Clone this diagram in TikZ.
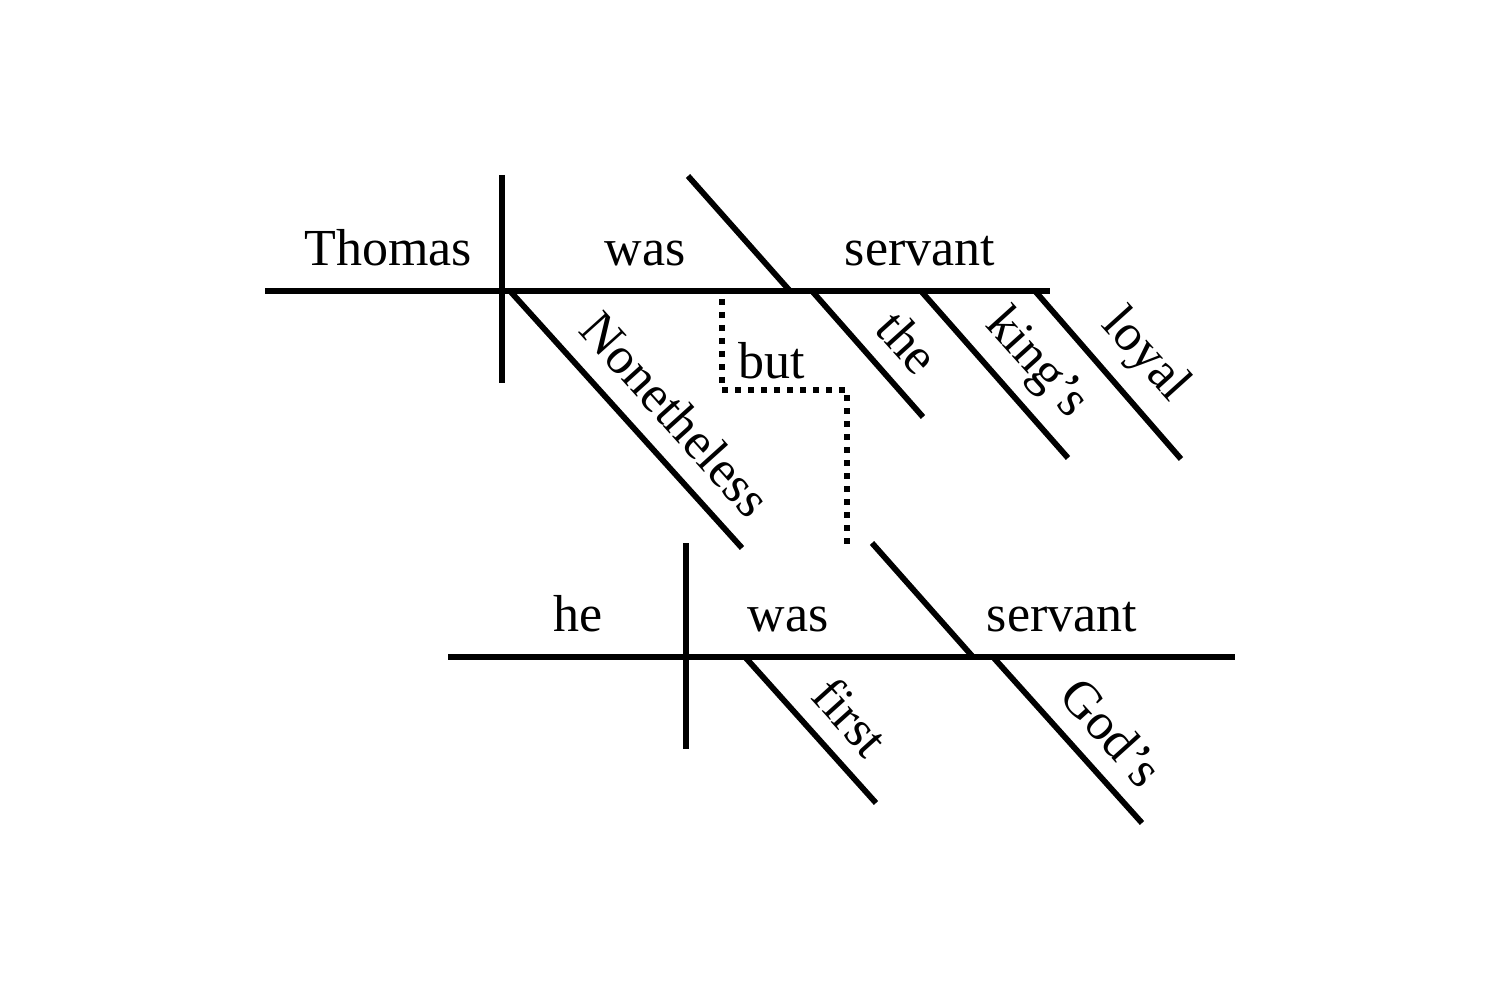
\documentclass[tikz,border=0pt]{standalone}
\usepackage{fontspec}
\setmainfont{Liberation Serif}
\begin{document}
\begin{tikzpicture}[x=1pt,y=-1pt,
  ln/.style={line width=5.8pt},
  dotln/.style={line width=6pt,dash pattern=on 6pt off 7pt},
  word/.style={font=\fontsize{52}{60}\selectfont,inner sep=0pt,anchor=base},
  slword/.style={font=\fontsize{52}{60}\selectfont,inner sep=0pt,rotate=-48}]
\useasboundingbox (0,0) rectangle (1500,1000);
% top clause
\coordinate (tA) at (265,291); \coordinate (tB) at (1050,291);
\coordinate (tV1) at (502,175); \coordinate (tV2) at (502,383);
\coordinate (tS1) at (688,176); \coordinate (tS2) at (790,291);
\coordinate (n1) at (510,291); \coordinate (n2) at (742,548);
\coordinate (th1) at (812,291); \coordinate (th2) at (923,417);
\coordinate (k1) at (921,291); \coordinate (k2) at (1068,458);
\coordinate (l1) at (1035,291); \coordinate (l2) at (1181,459);
\draw[ln] (tA) -- (tB);
\draw[ln] (tV1) -- (tV2);
\draw[ln] (tS1) -- (tS2);
\draw[ln] (n1) -- (n2);
\draw[ln] (th1) -- (th2);
\draw[ln] (k1) -- (k2);
\draw[ln] (l1) -- (l2);
\node[word] (thomas) at (388,266) {Thomas};
\node[word] (was1) at (645,266) {was};
\node[word] (serv1) at (920,266) {servant};
\node[slword] (nonet) at (676,414) {Nonetheless};
\node[slword] (the) at (908,342) {the};
\node[slword] (kings) at (1036,364) {king’s};
\node[slword] (loyal) at (1145,356) {loyal};
% conjunction
\coordinate (d1) at (722,299); \coordinate (d2) at (722,390);
\coordinate (d3) at (847,390); \coordinate (d4) at (847,547);
\draw[dotln] (d1) -- (d2) -- (d3) -- (d4);
\node[word] (but) at (772,379) {but};
% bottom clause
\coordinate (bA) at (448,657); \coordinate (bB) at (1235,657);
\coordinate (bV1) at (686,543); \coordinate (bV2) at (686,749);
\coordinate (bS1) at (872,543); \coordinate (bS2) at (973,657);
\coordinate (f1) at (745,657); \coordinate (f2) at (876,803);
\coordinate (g1) at (993,657); \coordinate (g2) at (1142,823);
\draw[ln] (bA) -- (bB);
\draw[ln] (bV1) -- (bV2);
\draw[ln] (bS1) -- (bS2);
\draw[ln] (f1) -- (f2);
\draw[ln] (g1) -- (g2);
\node[word] (he) at (578,631) {he};
\node[word] (was2) at (788,631) {was};
\node[word] (serv2) at (1062,631) {servant};
\node[slword] (first) at (851,717) {first};
\node[slword] (gods) at (1112,732) {God’s};
\end{tikzpicture}
\end{document}
